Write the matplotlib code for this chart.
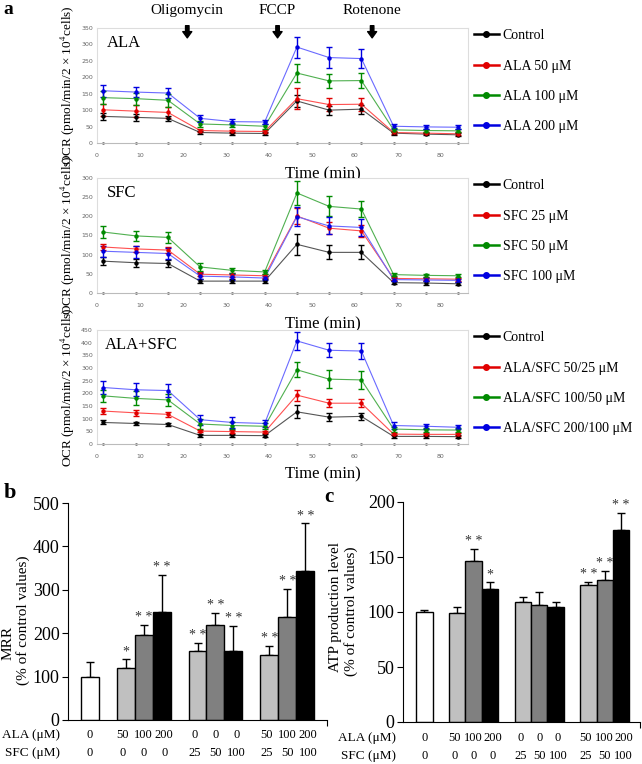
import numpy as np
import matplotlib
matplotlib.use("Agg")
import matplotlib.pyplot as plt

plt.rcParams['font.family'] = ['Liberation Serif', 'DejaVu Serif']
plt.rcParams['mathtext.fontset'] = 'stix'

# ---- data: OCR time courses (panel a) ----
times = [1.5, 9, 16.5, 24, 31.5, 39, 46.5, 54, 61.5, 69, 76.5, 84]

ala_labels = ['Control', 'ALA 50 μM', 'ALA 100 μM', 'ALA 200 μM']
ala_ocr = [
    [81, 78, 75, 32, 30, 29, 128, 100, 103, 30, 27, 25],
    [101, 97, 93, 38, 36, 35, 135, 117, 118, 32, 30, 28],
    [138, 135, 130, 58, 55, 51, 213, 189, 190, 40, 38, 37],
    [159, 155, 152, 75, 65, 64, 292, 260, 257, 51, 49, 48],
]
ala_err = [
    [10, 10, 8, 5, 5, 5, 18, 14, 14, 5, 4, 4],
    [18, 18, 18, 6, 5, 5, 33, 20, 20, 5, 4, 4],
    [20, 18, 20, 8, 7, 7, 28, 22, 22, 6, 5, 5],
    [18, 16, 16, 10, 8, 7, 32, 32, 30, 8, 7, 6],
]

sfc_labels = ['Control', 'SFC 25 μM', 'SFC 50 μM', 'SFC 100 μM']
sfc_ocr = [
    [83, 79, 77, 31, 31, 31, 127, 106, 106, 27, 26, 24],
    [120, 115, 112, 49, 47, 45, 201, 169, 162, 38, 37, 36],
    [159, 149, 145, 68, 59, 55, 261, 226, 219, 48, 46, 45],
    [109, 106, 103, 44, 42, 39, 199, 175, 171, 35, 34, 33],
]
sfc_err = [
    [10, 10, 8, 5, 5, 5, 28, 18, 18, 4, 4, 4],
    [8, 8, 8, 5, 5, 5, 20, 15, 15, 4, 4, 4],
    [16, 14, 14, 10, 7, 6, 32, 26, 22, 4, 4, 4],
    [14, 16, 14, 8, 7, 6, 25, 22, 22, 4, 4, 4],
]

mix_labels = ['Control', 'ALA/SFC 50/25 μM', 'ALA/SFC 100/50 μM', 'ALA/SFC 200/100 μM']
mix_ocr = [
    [85, 81, 77, 34, 34, 33, 127, 106, 109, 30, 30, 29],
    [130, 123, 117, 51, 49, 47, 193, 161, 161, 39, 38, 38],
    [190, 180, 174, 79, 73, 70, 293, 256, 253, 59, 56, 55],
    [223, 214, 211, 96, 85, 81, 407, 370, 367, 73, 70, 66],
]
mix_err = [
    [8, 7, 6, 5, 5, 5, 25, 15, 15, 5, 5, 5],
    [12, 11, 9, 5, 5, 5, 22, 16, 16, 5, 5, 5],
    [25, 28, 25, 18, 15, 12, 30, 35, 35, 10, 8, 8],
    [25, 25, 25, 20, 20, 15, 35, 28, 30, 12, 10, 8],
]

injections = ['Oligomycin', 'FCCP', 'Rotenone']
inject_times = [21, 42, 64]

# ---- data: bar charts (panels b, c) ----
ala_dose = ['0', '50', '100', '200', '0', '0', '0', '50', '100', '200']
sfc_dose = ['0', '0', '0', '0', '25', '50', '100', '25', '50', '100']
mrr = [100, 119, 195, 250, 158, 219, 160, 149, 237, 344]
mrr_err = [33, 21, 24, 84, 20, 28, 56, 21, 64, 109]
mrr_sig = ['', '*', '**', '**', '**', '**', '**', '**', '**', '**']
atp = [100, 99, 146, 121, 109, 106, 105, 125, 129, 175]
atp_err = [2, 6, 11, 6, 5, 12, 4, 2, 8, 15]
atp_sig = ['', '', '**', '*', '', '', '', '**', '**', '**']

W, H = 642, 764
fig = plt.figure(figsize=(W / 100, H / 100), dpi=100)


def px_axes(left, right, top, bottom):
    return fig.add_axes([left / W, 1 - bottom / H, (right - left) / W, (bottom - top) / H])


mark_cols = ['#000000', '#e00000', '#008a00', '#0000e0']
line_cols = ['#555555', '#ff5050', '#50b050', '#6a6aff']


def ocr_panel(ax, series, errs, labels, ymax, title, title_x):
    for s, e, lab, mc, lc in zip(series, errs, labels, mark_cols, line_cols):
        ax.plot(times, s, '-', color=lc, lw=0.8, zorder=2)
        ax.errorbar(times, s, yerr=e, fmt='o', ms=2.2, color=mc, ecolor=mc,
                    elinewidth=1.0, capsize=2.2, capthick=1.0, zorder=3)
        ax.plot([], [], '-o', color=mc, lw=1.8, ms=4, label=lab)
    ax.plot(times, np.zeros(len(times)), '.', color='#777777', ms=2, clip_on=False)
    ax.set_xlim(0, 86.3)
    ax.set_ylim(0, ymax)
    ax.set_xticks(range(0, 90, 10))
    ax.set_yticks(range(0, ymax + 1, 50))
    ax.tick_params(length=0, labelsize=4.5, labelcolor='#666666', pad=7)
    ax.tick_params(axis='y', pad=3)
    for tl in ax.get_xticklabels() + ax.get_yticklabels():
        tl.set_family('DejaVu Sans')
    for sp in ax.spines.values():
        sp.set_color('#dddddd')
        sp.set_linewidth(0.8)
    ax.spines['bottom'].set_color('#bbbbbb')
    ax.text(title_x, 0.87, title, transform=ax.transAxes, fontsize=12, va='center')
    ax.set_ylabel('OCR (pmol/min/2 × 10$^{4}$cells)', fontsize=9.5)
    ax.yaxis.set_label_coords(-0.054, 0.5)
    ax.set_xlabel('Time (min)', fontsize=12)
    ax.xaxis.set_label_coords(0.61, -0.2)
    ax.legend(loc='upper left', bbox_to_anchor=(1.015, 0.99), frameon=False,
              fontsize=10, handlelength=1.8, handletextpad=0.3, labelspacing=1.25,
              borderpad=0, borderaxespad=0)


ax1 = px_axes(97, 468, 28, 143)
ocr_panel(ax1, ala_ocr, ala_err, ala_labels, 350, 'ALA', 0.027)
ax2 = px_axes(97, 468, 178, 293)
ocr_panel(ax2, sfc_ocr, sfc_err, sfc_labels, 300, 'SFC', 0.027)
ax3 = px_axes(97, 468, 330, 444)
ocr_panel(ax3, mix_ocr, mix_err, mix_labels, 450, 'ALA+SFC', 0.02)

for name, t in zip(injections, inject_times):
    ax1.annotate('', xy=(t, 320), xytext=(t, 357), annotation_clip=False,
                 arrowprops=dict(arrowstyle='simple,head_width=0.65,head_length=0.45,tail_width=0.25',
                                 color='black', mutation_scale=10, shrinkA=0, shrinkB=0))
    ax1.text(t, 403, name, ha='center', va='center', fontsize=11, clip_on=False)

# ---- bar panels ----
pos = [0] + [2 + g * 4 + i for g in range(3) for i in range(3)]
# dose labels spread a little wider than the bars, like the table under the original
label_pos = [0] + [2 + g * 4 + 1 + (i - 1) * 1.15 for g in range(3) for i in range(3)]
bar_cols = ['white'] + ['#c0c0c0', '#808080', '#000000'] * 3


def bar_panel(ax, vals, errs, sigs, ymax, step, xr, row_y):
    ax.bar(pos, vals, width=1.0, color=bar_cols, edgecolor='black', linewidth=1.0, zorder=2)
    ax.errorbar(pos, vals, yerr=[np.zeros(len(vals)), errs], fmt='none', ecolor='black',
                elinewidth=1.0, capsize=3, capthick=1.0, zorder=1)
    for p, v, e, s in zip(pos, vals, errs, sigs):
        if s:
            ax.text(p, v + e + ymax * 0.004, ' '.join(s), ha='center', va='bottom', fontsize=10,
                    color='#333333')
    ax.set_xlim(*xr)
    ax.set_ylim(0, ymax)
    ax.set_yticks(range(0, ymax + 1, step))
    ax.set_xticks([xr[1]])
    ax.set_xticklabels([''])
    ax.tick_params(axis='y', labelsize=13, length=4, direction='out', pad=2)
    ax.tick_params(axis='x', length=4, direction='out')
    for sp in ['top', 'right']:
        ax.spines[sp].set_visible(False)
    tr = ax.get_xaxis_transform()
    for p, a, s in zip(label_pos, ala_dose, sfc_dose):
        ax.text(p, row_y[0], a, transform=tr, ha='center', va='center', fontsize=9)
        ax.text(p, row_y[1], s, transform=tr, ha='center', va='center', fontsize=9)
    ax.text(-0.03, row_y[0], 'ALA (μM)', transform=ax.transAxes, ha='right', va='center', fontsize=9.5)
    ax.text(-0.03, row_y[1], 'SFC (μM)', transform=ax.transAxes, ha='right', va='center', fontsize=9.5)


axb = px_axes(68, 327, 503, 720)
bar_panel(axb, mrr, mrr_err, mrr_sig, 500, 100, (-1.2, 13.2), (-0.07, -0.15))
axc = px_axes(403, 640, 502, 722)
bar_panel(axc, atp, atp_err, atp_sig, 200, 50, (-1.3, 13.15), (-0.074, -0.155))

fig.text(8 / W, 1 - 643 / H, 'MRR', rotation=90, ha='center', va='center', fontsize=11)
fig.text(23 / W, 1 - 620 / H, '(% of control values)', rotation=90, ha='center', va='center', fontsize=11)
fig.text(336 / W, 1 - 607 / H, 'ATP production level', rotation=90, ha='center', va='center', fontsize=11)
fig.text(351 / W, 1 - 611 / H, '(% of control values)', rotation=90, ha='center', va='center', fontsize=11)

fig.text(8 / W, 1 - 10 / H, 'a', fontsize=14, fontweight='bold', ha='center', va='center')
fig.text(10 / W, 1 - 493 / H, 'b', fontsize=16, fontweight='bold', ha='center', va='center')
fig.text(329 / W, 1 - 497 / H, 'c', fontsize=15, fontweight='bold', ha='center', va='center')

fig.savefig('out.png', dpi=100, facecolor='white')
